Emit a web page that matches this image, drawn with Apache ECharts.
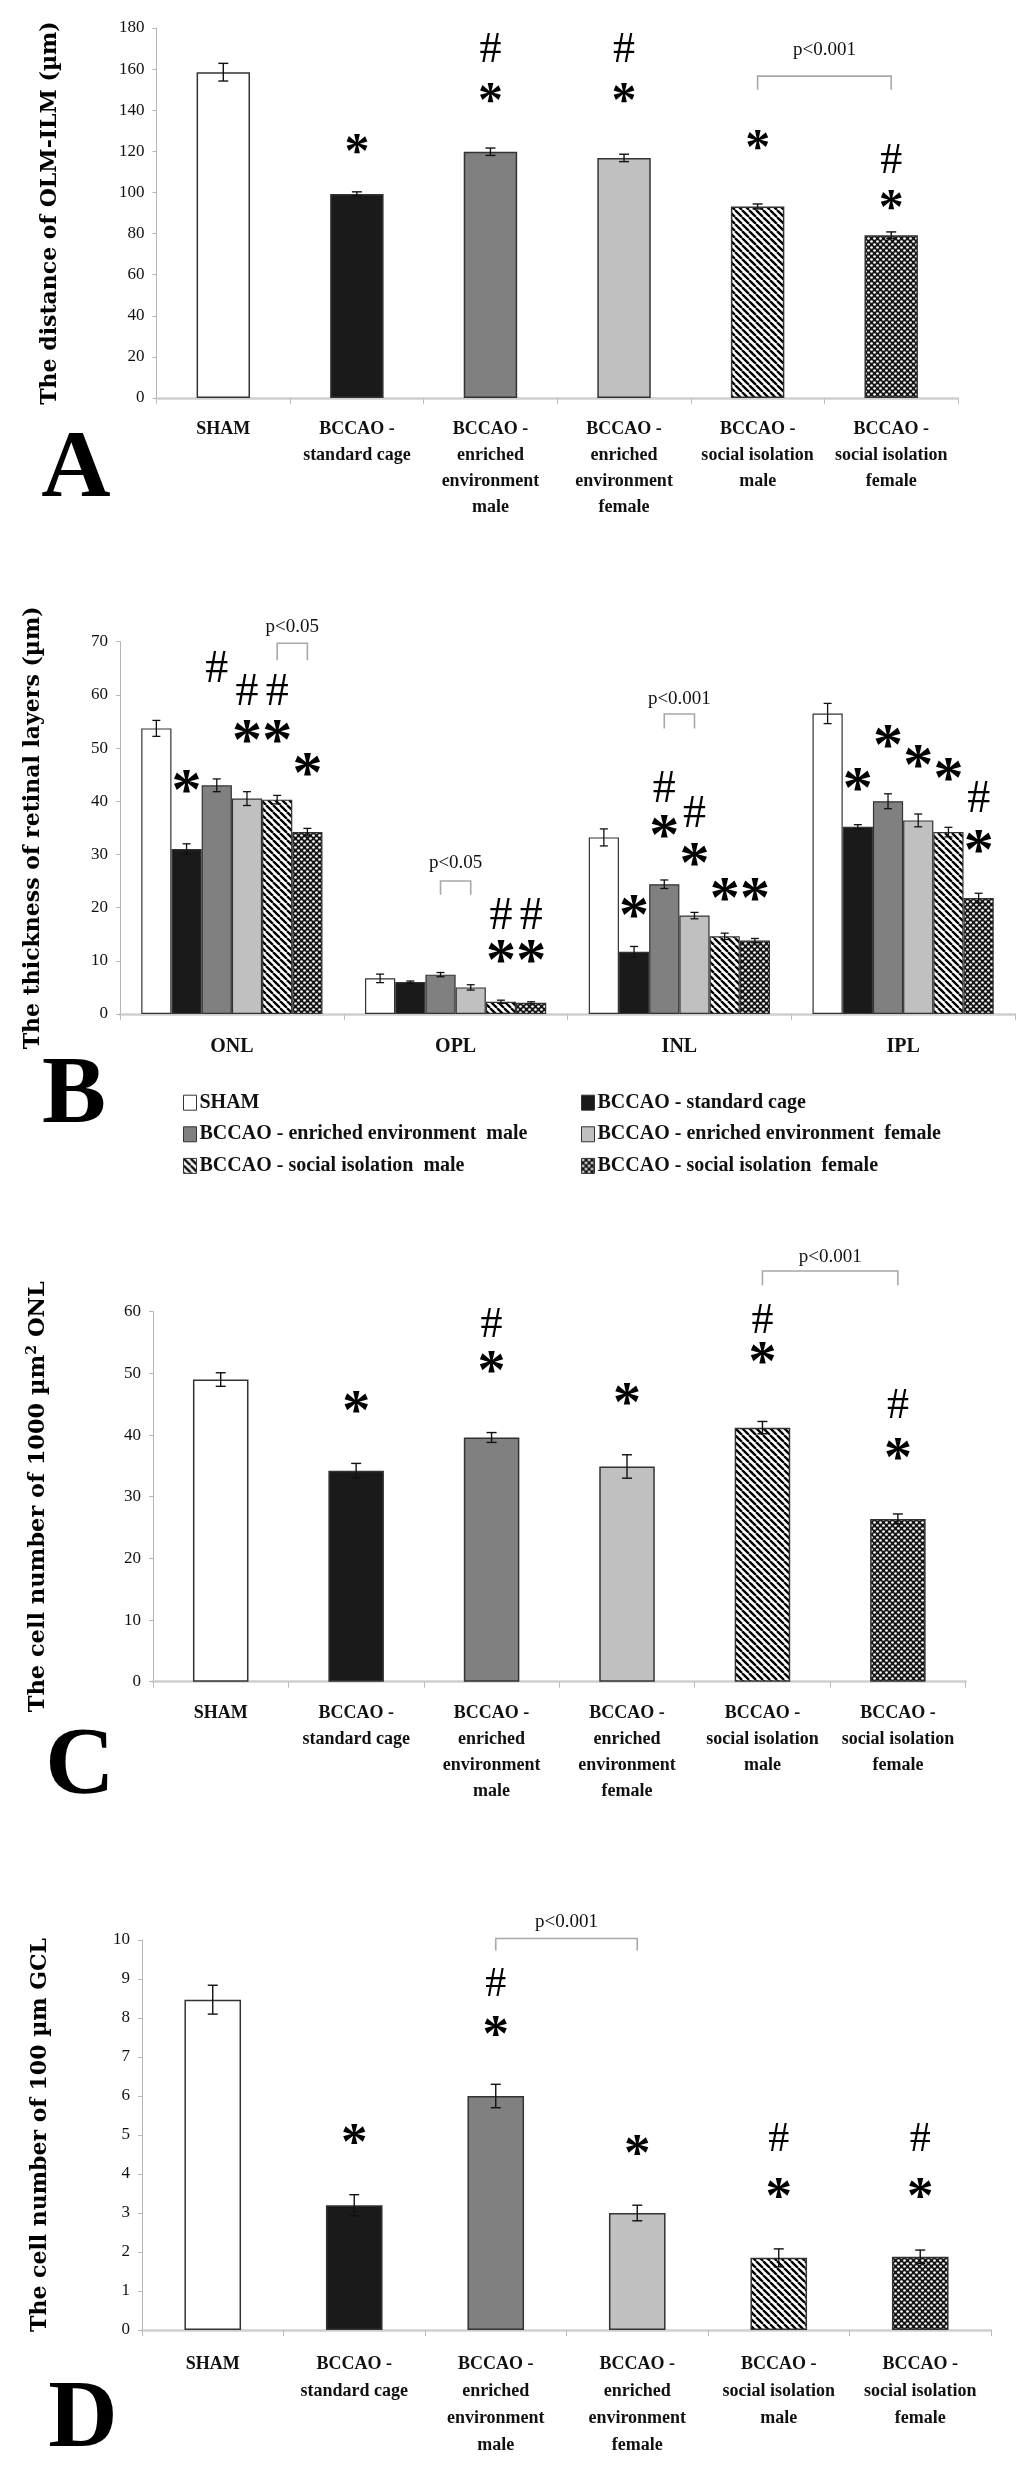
<!DOCTYPE html>
<html><head><meta charset="utf-8">
<script src="https://cdn.jsdelivr.net/npm/echarts@6/dist/echarts.min.js"></script>
<style>html,body{margin:0;padding:0;background:#fff}#c{width:1024px;height:2474px}</style>
</head><body><div id="c"></div><script>
// ---------------- DATA ----------------
const groupNames = ['SHAM','BCCAO - standard cage','BCCAO - enriched environment  male','BCCAO - enriched environment  female','BCCAO - social isolation  male','BCCAO - social isolation  female'];
const groupLabels = ['SHAM','BCCAO -\nstandard cage','BCCAO -\nenriched\nenvironment\nmale','BCCAO -\nenriched\nenvironment\nfemale','BCCAO -\nsocial isolation\nmale','BCCAO -\nsocial isolation\nfemale'];

// Panel A
const distA = [158.5, 99.3, 119.8, 116.8, 93.2, 79.2];
const distAErr = [4.3, 1.0, 1.8, 1.8, 1.2, 1.6];
const marksA = [[1,123,'*'],[2,169,'#'],[2,147.7,'*'],[3,169,'#'],[3,147.7,'*'],[4,124.7,'*'],[5,115,'#'],[5,95.5,'*']];
const bracketsA = [[4,5,156.6,150,'p<0.001',169.5]];

// Panel B
const layersB = ['ONL','OPL','INL','IPL'];
const thickB = [
  [53.7, 6.7, 33.2, 56.5],
  [31.0, 6.0, 11.7, 35.2],
  [43.0, 7.4, 24.4, 40.0],
  [40.5, 5.0, 18.5, 36.4],
  [40.3, 2.3, 14.6, 34.2],
  [34.2, 2.1, 13.8, 21.8]];
const thickBErr = [
  [1.5, 0.8, 1.6, 1.9],
  [1.0, 0.2, 1.0, 0.4],
  [1.2, 0.4, 0.8, 1.4],
  [1.3, 0.5, 0.6, 1.2],
  [0.8, 0.3, 0.6, 0.9],
  [0.7, 0.2, 0.4, 0.9]];
const marksB = [
  [0,1,43.4,'*'],[0,2,64.7,'#'],[0,3,60.3,'#'],[0,3,52.8,'*'],[0,4,60.3,'#'],[0,4,52.8,'*'],[0,5,46.5,'*'],
  [1,4,18.3,'#'],[1,4,11.4,'*'],[1,5,18.3,'#'],[1,5,11.4,'*'],
  [2,1,19.9,'*'],[2,2,42.1,'#'],[2,2,34.9,'*'],[2,3,37.4,'#'],[2,3,29.6,'*'],[2,4,23,'*'],[2,5,23,'*'],
  [3,1,43.7,'*'],[3,2,51.8,'*'],[3,3,48.1,'*'],[3,4,45.6,'*'],[3,5,40.2,'#'],[3,5,32.1,'*']];
const bracketsB = [[0,4,5,69.7,66.5,'p<0.05',72.8],[1,2,3,25,22.4,'p<0.05',28.3],[2,2,3,56.4,53.7,'p<0.001',59.3]];

// Panel C
const cellC = [49.0, 34.2, 39.6, 34.9, 41.2, 26.4];
const cellCErr = [1.1, 1.2, 0.8, 1.9, 1.0, 0.8];
const marksC = [[1,44.9,'*'],[2,57.8,'#'],[2,51.4,'*'],[3,46.2,'*'],[4,58.4,'#'],[4,52.8,'*'],[5,44.6,'#'],[5,37.3,'*']];
const bracketsC = [[4,5,66.6,64.3,'p<0.001',68.9]];

// Panel D
const cellD = [8.47, 3.2, 6.0, 3.0, 1.85, 1.88];
const cellDErr = [0.37, 0.27, 0.3, 0.2, 0.23, 0.17];
const marksD = [[1,4.96,'*'],[2,8.85,'#'],[2,7.74,'*'],[3,4.68,'*'],[4,4.87,'#'],[4,3.59,'*'],[5,4.87,'#'],[5,3.59,'*']];
const bracketsD = [[2,3,10.04,9.73,'p<0.001',10.47]];

// ---------------- STYLE ----------------
function hatchCanvas(){
  const s=7, c=document.createElement('canvas'); c.width=s; c.height=s;
  const g=c.getContext('2d'); g.fillStyle='#fff'; g.fillRect(0,0,s,s);
  g.strokeStyle='#000'; g.lineWidth=2.3; g.beginPath();
  for(let k=-1;k<=1;k++){ g.moveTo(k*s,0); g.lineTo(k*s+s,s); }
  g.stroke(); return c;
}
function dotCanvas(){
  const s=6, c=document.createElement('canvas'); c.width=s; c.height=s;
  const g=c.getContext('2d'); g.fillStyle='#151515'; g.fillRect(0,0,s,s);
  g.fillStyle='#fff';
  [[1.5,1.5],[4.5,4.5]].forEach(p=>{ g.beginPath(); g.arc(p[0],p[1],1.35,0,Math.PI*2); g.fill(); });
  return c;
}
const fills = ['#ffffff','#1a1a1a','#808080','#c0c0c0',{image:hatchCanvas(),repeat:'repeat'},{image:dotCanvas(),repeat:'repeat'}];
const SERIF = '"Liberation Serif", "Times New Roman", serif';
const TITLEF = '"DejaVu Serif", serif';

const grids = [
  {left:156.5, right:66, top:28, height:370},
  {left:120, right:9, top:641.7, height:372.3},
  {left:153, right:58.4, top:1311.7, height:370},
  {left:142, right:33, top:1940, height:390}
];

function xAxisCfg(i, cats, margin, fs, lh){
  return {type:'category', gridIndex:i, data:cats,
    axisLine:{show:true, lineStyle:{color:'#cfcfcf', width:2.5}},
    axisTick:{show:true, length:6, lineStyle:{color:'#bdbdbd', width:1}},
    axisLabel:{interval:0, margin:margin, fontFamily:SERIF, fontWeight:'bold', fontSize:fs, lineHeight:lh, color:'#111'}};
}
function yAxisCfg(i, max, interval, name, gap, extra){
  return {type:'value', gridIndex:i, min:0, max:max, interval:interval,
    name:name, nameLocation:'middle', nameGap:gap, nameRotate:90,
    nameTextStyle:Object.assign({fontFamily:TITLEF, fontWeight:'bold', fontSize:22, color:'#000'}, extra||{}),
    axisLine:{show:true, lineStyle:{color:'#b5b5b5', width:1}},
    axisTick:{show:true, length:4, lineStyle:{color:'#b5b5b5'}},
    splitLine:{show:false},
    axisLabel:{margin:12, fontFamily:SERIF, fontSize:17, color:'#111'}};
}

function singleBars(i, vals){
  return {type:'bar', xAxisIndex:i, yAxisIndex:i, barCategoryGap:'60%', z:2,
    data: vals.map((v,k)=>({value:v, itemStyle:{color:fills[k]}})),
    itemStyle:{borderColor:'#333', borderWidth:1.5}};
}
function singleErr(i, vals, errs){
  return {type:'custom', xAxisIndex:i, yAxisIndex:i, z:4, silent:true,
    data: vals.map((v,k)=>[k, v, errs[k]]),
    encode:{x:0, y:1},
    renderItem(params, api){
      const k=api.value(0), v=api.value(1), e=api.value(2);
      const x=api.coord([k,v])[0];
      const t=api.coord([k,v+e])[1], b=api.coord([k,v-e])[1];
      const cw=5, st={stroke:'#111', lineWidth:1.4};
      return {type:'group', children:[
        {type:'line', shape:{x1:x,y1:t,x2:x,y2:b}, style:st},
        {type:'line', shape:{x1:x-cw,y1:t,x2:x+cw,y2:t}, style:st},
        {type:'line', shape:{x1:x-cw,y1:b,x2:x+cw,y2:b}, style:st}]};
    }};
}
function markText(sym, x, y, starFs, hashFs){
  if(sym==='*') return {type:'text', style:{text:'*', x:x, y:y+starFs*0.17, align:'center', verticalAlign:'middle', fontFamily:SERIF, fontWeight:'bold', fontSize:starFs, fill:'#000'}};
  return {type:'text', style:{text:'#', x:x, y:y, align:'center', verticalAlign:'middle', fontFamily:SERIF, fontSize:hashFs, fill:'#000'}};
}
function singleMarks(i, marks, starFs, hashFs){
  return {type:'custom', xAxisIndex:i, yAxisIndex:i, z:5, clip:false, silent:true,
    data: marks.map(m=>[m[0], m[1]]), encode:{x:0,y:1},
    renderItem(params, api){
      const m=marks[params.dataIndex];
      const p=api.coord([api.value(0), api.value(1)]);
      return markText(m[2], p[0], p[1], starFs, hashFs);
    }};
}
function bracketEls(x1, x2, yt, yb, yText, txt){
  const st={stroke:'#a8a8a8', lineWidth:1.6, fill:null};
  return {type:'group', children:[
    {type:'polyline', shape:{points:[[x1,yb],[x1,yt],[x2,yt],[x2,yb]]}, style:st},
    {type:'text', style:{text:txt, x:(x1+x2)/2, y:yText, align:'center', verticalAlign:'middle', fontFamily:SERIF, fontSize:19, fill:'#111'}}]};
}
function singleBrackets(i, brs){
  return {type:'custom', xAxisIndex:i, yAxisIndex:i, z:5, clip:false, silent:true,
    data: brs.map(b=>[b[0], b[2]]), encode:{x:0,y:1},
    renderItem(params, api){
      const b=brs[params.dataIndex];
      const x1=api.coord([b[0],0])[0], x2=api.coord([b[1],0])[0];
      return bracketEls(x1, x2, api.coord([0,b[2]])[1], api.coord([0,b[3]])[1], api.coord([0,b[5]])[1], b[4]);
    }};
}

// B helpers
const GAPB = 0.19;
function xB(api, layer, group){
  return api.coord([layer,0])[0] + (group-2.5)*api.size([1,0])[0]*(1-GAPB)/6;
}

const series = [];
// A
series.push(singleBars(0, distA), singleErr(0, distA, distAErr), singleMarks(0, marksA, 50, 44), singleBrackets(0, bracketsA));
// B
groupNames.forEach((g, s)=>{
  series.push({type:'bar', name:g, xAxisIndex:1, yAxisIndex:1, barGap:'0%', barCategoryGap:(GAPB*100)+'%', z:2,
    data: thickB[s], itemStyle:{color:fills[s], borderColor:'#333', borderWidth:1.2}});
});
const errBData = [];
thickB.forEach((row,s)=>row.forEach((v,l)=>errBData.push([l, v, thickBErr[s][l], s])));
series.push({type:'custom', xAxisIndex:1, yAxisIndex:1, z:4, silent:true, data:errBData, encode:{x:0,y:1},
  renderItem(params, api){
    const l=api.value(0), v=api.value(1), e=api.value(2), s=api.value(3);
    const x=xB(api,l,s), t=api.coord([l,v+e])[1], b=api.coord([l,v-e])[1];
    const cw=4, st={stroke:'#111', lineWidth:1.3};
    return {type:'group', children:[
      {type:'line', shape:{x1:x,y1:t,x2:x,y2:b}, style:st},
      {type:'line', shape:{x1:x-cw,y1:t,x2:x+cw,y2:t}, style:st},
      {type:'line', shape:{x1:x-cw,y1:b,x2:x+cw,y2:b}, style:st}]};
  }});
series.push({type:'custom', xAxisIndex:1, yAxisIndex:1, z:5, clip:false, silent:true,
  data: marksB.map(m=>[m[0], m[2]]), encode:{x:0,y:1},
  renderItem(params, api){
    const m=marksB[params.dataIndex];
    return markText(m[3], xB(api,m[0],m[1]), api.coord([m[0],m[2]])[1], 60, 46);
  }});
series.push({type:'custom', xAxisIndex:1, yAxisIndex:1, z:5, clip:false, silent:true,
  data: bracketsB.map(b=>[b[0], b[3]]), encode:{x:0,y:1},
  renderItem(params, api){
    const b=bracketsB[params.dataIndex];
    return bracketEls(xB(api,b[0],b[1]), xB(api,b[0],b[2]), api.coord([0,b[3]])[1], api.coord([0,b[4]])[1], api.coord([0,b[6]])[1], b[5]);
  }});
// C
const cBars = singleBars(2, cellC); cBars.barCategoryGap='59%';
series.push(cBars, singleErr(2, cellC, cellCErr), singleMarks(2, marksC, 56, 44), singleBrackets(2, bracketsC));
// D
series.push(singleBars(3, cellD), singleErr(3, cellD, cellDErr), singleMarks(3, marksD, 53, 42), singleBrackets(3, bracketsD));

const legendCommon = {orient:'vertical', itemWidth:13, itemHeight:15, itemGap:11.6, icon:'rect',
  textStyle:{fontFamily:SERIF, fontWeight:'bold', fontSize:20, lineHeight:20, color:'#111', padding:[0,0,0,-2]},
  itemStyle:{borderColor:'#333', borderWidth:1}};

const option = {
  animation:false,
  textStyle:{fontFamily:SERIF},
  grid: grids,
  xAxis: [xAxisCfg(0, groupLabels, 18, 18, 26), xAxisCfg(1, layersB, 20, 20, 26), xAxisCfg(2, groupLabels, 18.5, 18, 26), xAxisCfg(3, groupLabels, 20.5, 18, 27)],
  yAxis: [
    yAxisCfg(0, 180, 20, 'The distance of OLM-ILM (µm)', 95),
    yAxisCfg(1, 70, 10, 'The thickness of retinal layers (µm)', 76),
    yAxisCfg(2, 60, 10, 'The cell number of 1000 µm{sup|2} ONL', 102, {fontSize:22.5, rich:{sup:{fontFamily:TITLEF, fontWeight:'bold', fontSize:14, color:'#000', verticalAlign:'top', padding:[0,0,12,0]}}}),
    yAxisCfg(3, 10, 1, 'The cell number of 100 µm GCL', 91)
  ],
  legend: [
    Object.assign({left:178, top:1087.7, data:[groupNames[0], groupNames[2], groupNames[4]]}, legendCommon),
    Object.assign({left:576, top:1087.7, data:[groupNames[1], groupNames[3], groupNames[5]]}, legendCommon)
  ],
  graphic: [
    {type:'text', style:{text:'A', x:76, y:471, align:'center', verticalAlign:'middle', fontFamily:SERIF, fontWeight:'bold', fontSize:96, fill:'#000'}},
    {type:'text', style:{text:'B', x:74, y:1097, align:'center', verticalAlign:'middle', fontFamily:SERIF, fontWeight:'bold', fontSize:96, fill:'#000'}},
    {type:'text', style:{text:'C', x:80, y:1768, align:'center', verticalAlign:'middle', fontFamily:SERIF, fontWeight:'bold', fontSize:96, fill:'#000'}},
    {type:'text', style:{text:'D', x:83, y:2421, align:'center', verticalAlign:'middle', fontFamily:SERIF, fontWeight:'bold', fontSize:96, fill:'#000'}}
  ],
  series: series
};
const chart = echarts.init(document.getElementById('c'), null, {renderer:'canvas'});
chart.setOption(option);
</script></body></html>
